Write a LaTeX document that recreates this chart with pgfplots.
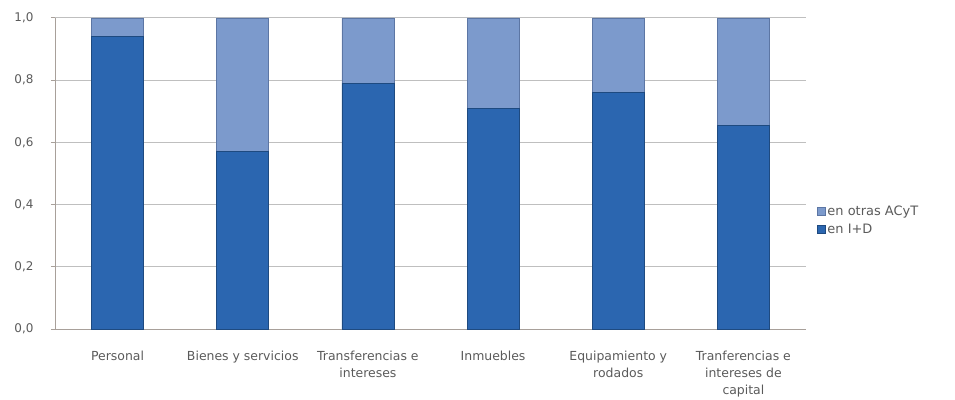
\documentclass[border=0pt]{standalone}
\usepackage{pgfplots}
\pgfplotsset{compat=1.18}
\usepackage{fontspec}
\setmainfont{DejaVu Sans}
\definecolor{txt}{HTML}{5A5A5A}
\definecolor{grid}{HTML}{A8A09A}
\definecolor{dkc}{HTML}{2B66B0}
\definecolor{dke}{HTML}{1E4A80}
\definecolor{ltc}{HTML}{7C9ACC}
\definecolor{lte}{HTML}{5C76A4}
\begin{document}
\begin{tikzpicture}
\useasboundingbox (-55bp,-71bp) rectangle (900bp,329bp);
\begin{axis}[
  at={(0,0)}, anchor=south west,
  scale only axis, width=751bp, height=311bp,
  ybar stacked, bar width=52bp,
  xmin=-0.5, xmax=5.5, ymin=0, ymax=1,
  axis x line*=bottom, axis y line*=left,
  axis line style={grid, line width=1pt},
  xtick={0,1,2,3,4,5},
  xticklabels={Personal,Bienes y servicios,{Transferencias e\\intereses},Inmuebles,{Equipamiento y\\rodados},{Tranferencias e\\intereses de\\capital}},
  x tick label style={align=center, font=\fontsize{12.5}{17}\selectfont, text=txt, anchor=north, yshift=-19bp},
  major x tick style={draw=none},
  extra x ticks={-0.5,0.5,1.5,2.5,3.5,4.5,5.5},
  extra x tick labels={},
  extra x tick style={major tick length=5bp, tick align=outside, grid=none, tick style={draw=grid, line width=1pt}},
  ytick={0,0.2,0.4,0.6,0.8,1.0},
  ymajorgrids, grid style={grid, line width=1pt},
  y tick label style={font=\fontsize{12}{14}\selectfont, text=txt, xshift=-14bp},
  /pgf/number format/fixed, /pgf/number format/fixed zerofill, /pgf/number format/precision=1,
  /pgf/number format/use comma, /pgf/number format/assume math mode=true,
  major y tick style={draw=grid, line width=1pt},
  ytick align=outside, major tick length=4bp,
  legend cell align=left,
  legend style={at={(1.01,0.35)}, anchor=west, draw=none, fill=none,
    font=\fontsize{13}{15}\selectfont, text=txt, row sep=3bp},
  legend image code/.code={\draw[#1] (0bp,-4bp) rectangle (8bp,4bp);},
  reverse legend,
]
\addplot+[ybar, draw=dke, line width=0.8pt, fill=dkc]
  coordinates {(0,0.94) (1,0.57) (2,0.79) (3,0.71) (4,0.76) (5,0.655)};
\addlegendentry{en I+D}
\addplot+[ybar, draw=lte, line width=0.8pt, fill=ltc]
  coordinates {(0,0.06) (1,0.43) (2,0.21) (3,0.29) (4,0.24) (5,0.345)};
\addlegendentry{en otras ACyT}
\end{axis}
\end{tikzpicture}
\end{document}
